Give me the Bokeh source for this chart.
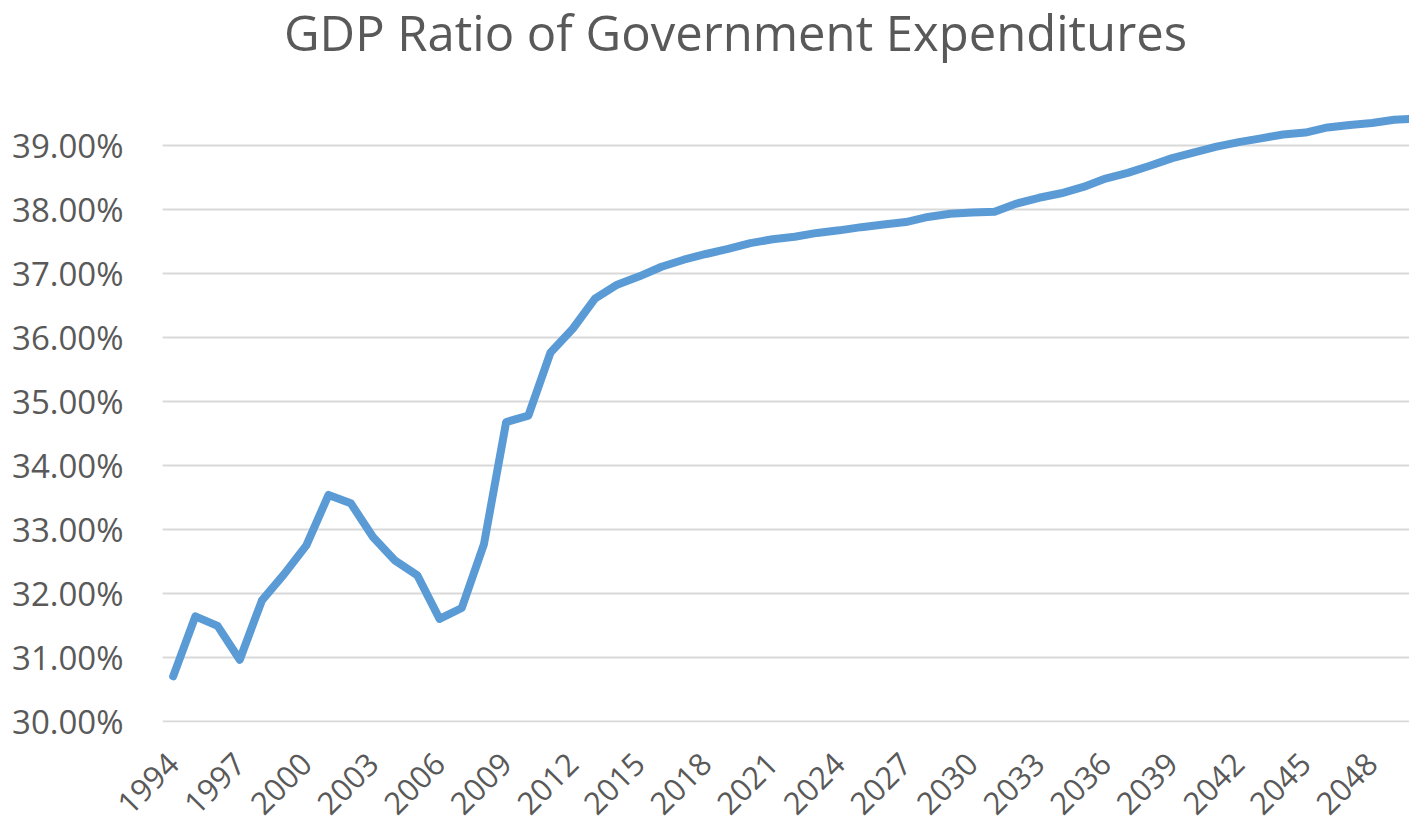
import math
from bokeh.plotting import figure
from bokeh.models import FixedTicker, PrintfTickFormatter, Range1d, Label
from bokeh.embed import file_html
from bokeh.resources import INLINE

title_text = "GDP Ratio of Government Expenditures"

years = list(range(1994, 2051))
gdp_ratio = [
    30.70, 31.64, 31.49, 30.96, 31.89, 32.30, 32.75, 33.54, 33.41, 32.88,
    32.51, 32.28, 31.60, 31.77, 32.77, 34.68, 34.78, 35.77, 36.14, 36.61,
    36.83, 36.96, 37.11, 37.22, 37.31, 37.39, 37.48, 37.54, 37.58, 37.64,
    37.68, 37.73, 37.77, 37.81, 37.89, 37.94, 37.96, 37.97, 38.10, 38.19,
    38.26, 38.36, 38.49, 38.58, 38.69, 38.81, 38.90, 38.99, 39.06, 39.12,
    39.18, 39.21, 39.29, 39.33, 39.36, 39.41, 39.43,
]
y_ticks = [30, 31, 32, 33, 34, 35, 36, 37, 38, 39]
x_ticks = list(range(1994, 2049, 3))

FONT = "Open Sans"
TEXT = "#595959"

# frame spans the full height above the x labels; the title sits inside it
p = figure(
    width=1409, height=827,
    output_backend="svg", toolbar_location=None,
    x_range=Range1d(1993.52, 2049.69), y_range=Range1d(29.978, 41.277),
    min_border_left=162, min_border_right=0, min_border_top=0, min_border_bottom=105,
    background_fill_color="white", border_fill_color="white",
)
p.outline_line_color = None

title = Label(
    x=573, y=691, x_units="screen", y_units="screen",
    text=title_text, text_align="center", text_baseline="alphabetic",
    text_font=FONT, text_font_size="49px", text_color=TEXT,
)
p.add_layout(title)

p.line(years, gdp_ratio, line_color="#5B9BD5", line_width=8, line_join="round", line_cap="round")

p.yaxis.ticker = FixedTicker(ticks=y_ticks)
p.yaxis.formatter = PrintfTickFormatter(format="%.2f%%")
p.yaxis.axis_line_color = None
p.yaxis.major_tick_line_color = None
p.yaxis.minor_tick_line_color = None
p.yaxis.major_label_standoff = 33
p.yaxis.major_label_text_font = FONT
p.yaxis.major_label_text_font_size = "33px"
p.yaxis.major_label_text_color = TEXT

p.xaxis.ticker = FixedTicker(ticks=x_ticks)
p.xaxis.axis_line_color = None
p.xaxis.major_tick_line_color = None
p.xaxis.minor_tick_line_color = None
p.xaxis.major_label_orientation = math.pi / 4
p.xaxis.major_label_standoff = 30
p.xaxis.major_label_text_font = FONT
p.xaxis.major_label_text_font_size = "31px"
p.xaxis.major_label_text_color = TEXT

p.xgrid.grid_line_color = None
p.ygrid.ticker = FixedTicker(ticks=y_ticks)
p.ygrid.grid_line_color = "#D9D9D9"
p.ygrid.grid_line_width = 2

open("out.html", "w").write(file_html(p, INLINE))
